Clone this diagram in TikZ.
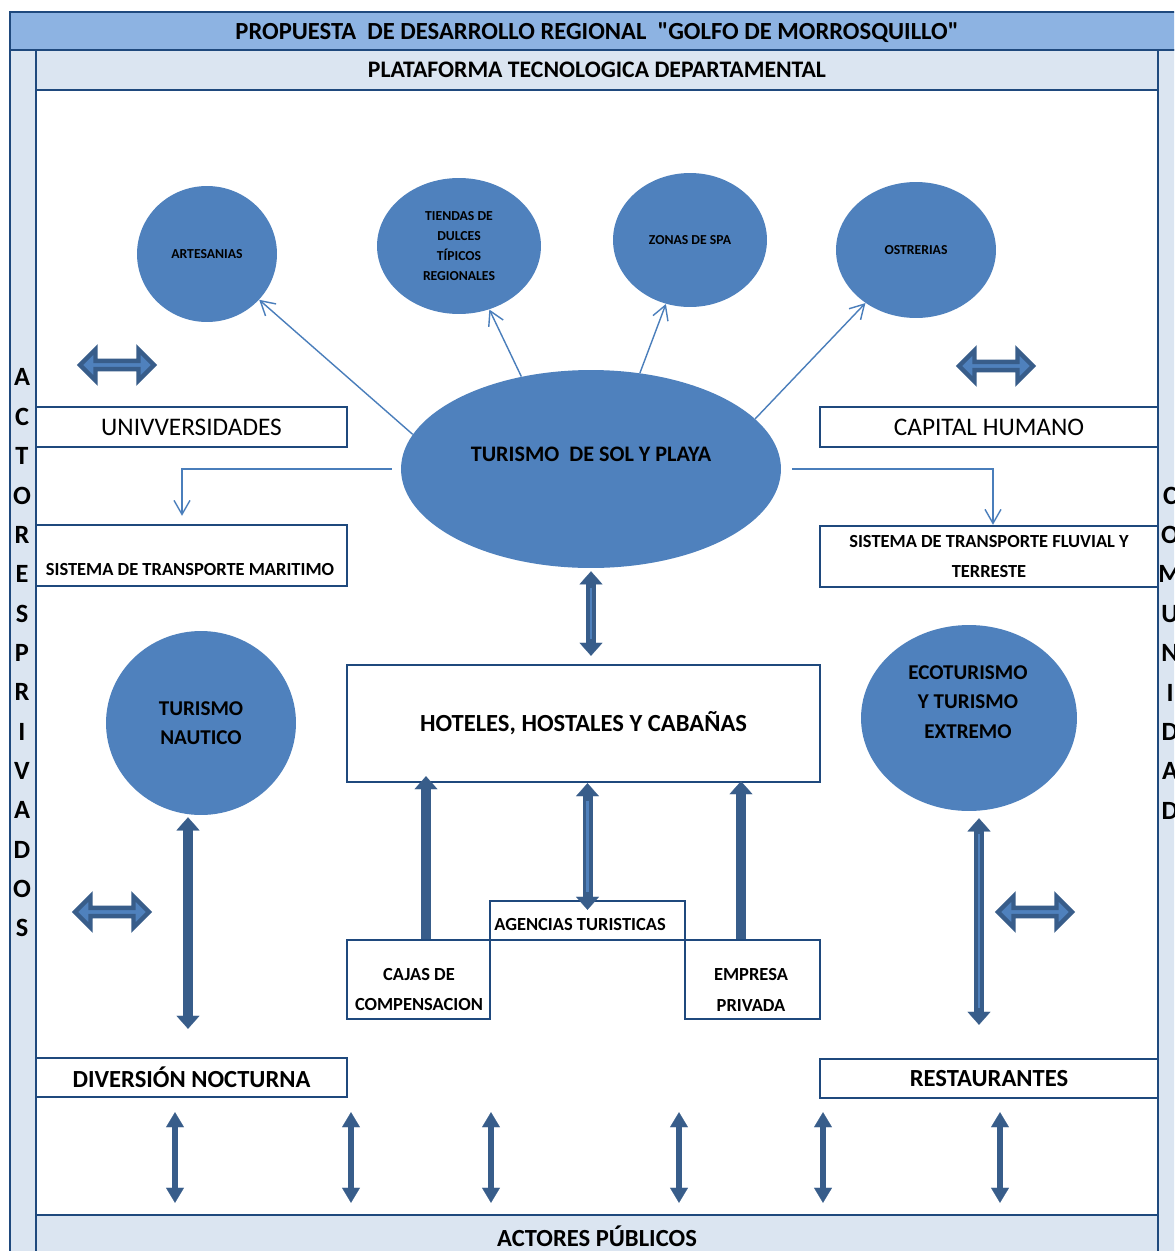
\documentclass[tikz,border=0pt]{standalone}
\usepackage{fontspec}
\setmainfont{Carlito}[Ligatures=TeXOff]
\usetikzlibrary{arrows.meta,shapes.geometric,shapes.arrows}
\definecolor{marco}{HTML}{1F497D}
\definecolor{banda}{HTML}{8DB3E2}
\definecolor{claro}{HTML}{DBE5F1}
\definecolor{globo}{HTML}{4F81BD}
\definecolor{flecha}{HTML}{385D8A}
\definecolor{linea}{HTML}{4A7EBB}

\tikzset{
  caja/.style={draw=marco, line width=1.4pt, fill=white, inner sep=2pt, align=center},
  barra/.style={draw=marco, line width=1.4pt, fill=claro, inner sep=0pt, minimum width=22.44cm},
  burbuja/.style={ellipse, fill=globo, inner sep=0pt, align=center, font=\bfseries\fontsize{7.8}{11.4}\selectfont},
  rotulo/.style={inner sep=0pt, align=center},
  letras/.style={inner sep=0pt, align=center, font=\bfseries\fontsize{15}{22.4}\selectfont},
  fina/.style={draw=linea, line width=0.8pt, -{Straight Barb[length=0.28cm,width=0.32cm]}},
  gruesa/.style={draw=flecha, line width=0.2cm,
    {Triangle[width=0.46cm,length=0.26cm,line width=0.1pt]}-{Triangle[width=0.46cm,length=0.26cm,line width=0.1pt]}},
  subida/.style={draw=flecha, line width=0.2cm, -{Triangle[width=0.46cm,length=0.26cm,line width=0.1pt]}},
  baja/.style={draw=flecha, line width=0.13cm,
    {Triangle[width=0.36cm,length=0.3cm,line width=0.1pt]}-{Triangle[width=0.36cm,length=0.3cm,line width=0.1pt]}},
  raya/.style 2 args={postaction={draw=globo, line width=1.2pt, -, shorten <=#1, shorten >=#2}},
  doble/.style={double arrow, draw=flecha, line width=2.5pt, fill=globo, inner sep=0pt,
    minimum height=1.48cm, minimum width=0.62cm, double arrow head extend=0.12cm},
}

\begin{document}
\begin{tikzpicture}[x=0.02cm, y=-0.02cm]
  \clip (0,0) rectangle (1174,1251);
  \fill[white] (0,0) rectangle (1174,1251);
  % marco general
  \filldraw[fill=banda, draw=marco, line width=1.4pt] (10,12) rectangle (1190,50);
  \filldraw[fill=claro, draw=marco, line width=1.4pt] (10,50) rectangle (36,1270);
  \filldraw[fill=claro, draw=marco, line width=1.4pt] (1158,50) rectangle (1190,1270);
  \node[rotulo, font=\bfseries\fontsize{14}{16}\selectfont] (tit) at (597,33)
    {PROPUESTA \ DE DESARROLLO REGIONAL \ "GOLFO DE MORROSQUILLO"};
  \node[barra, minimum height=0.8cm, font=\bfseries\fontsize{13.5}{16}\selectfont] (plat) at (597,70)
    {PLATAFORMA TECNOLOGICA DEPARTAMENTAL};
  \node[barra, minimum height=0.84cm, font=\bfseries\fontsize{14}{16}\selectfont] (pub) at (597,1236)
    {ACTORES PÚBLICOS};
  \node[letras] (priv) at (22,653) {A\\C\\T\\O\\R\\E\\S\\P\\R\\I\\V\\A\\D\\O\\S};
  \node[letras] (comu) at (1170,653) {C\\O\\M\\U\\N\\I\\D\\A\\D};

  % globos
  \node[burbuja, minimum width=2.8cm, minimum height=2.72cm] (art) at (207,254) {ARTESANIAS};
  \node[burbuja, minimum width=3.28cm, minimum height=2.72cm] (tie) at (459,246)
    {TIENDAS DE\\DULCES\\TÍPICOS\\REGIONALES};
  \node[burbuja, minimum width=3.08cm, minimum height=2.68cm] (spa) at (690,240) {ZONAS DE SPA};
  \node[burbuja, minimum width=3.2cm, minimum height=2.72cm] (ost) at (916,250) {OSTRERIAS};
  \node[burbuja, minimum width=7.6cm, minimum height=3.96cm] (sol) at (591,469) {};
  \node[rotulo, font=\bfseries\fontsize{12.6}{16}\selectfont] (sol-t) at (591,454)
    {TURISMO \ DE SOL Y PLAYA};
  \node[burbuja, minimum width=3.8cm, minimum height=3.68cm,
    font=\bfseries\fontsize{12}{16.5}\selectfont] (nau) at (201,723) {TURISMO\\NAUTICO};
  \node[burbuja, minimum width=4.32cm, minimum height=3.72cm] (eco) at (969,718) {};
  \node[rotulo, font=\bfseries\fontsize{12}{16.8}\selectfont] (eco-t) at (968,702)
    {ECOTURISMO\\Y TURISMO\\EXTREMO};

  % cajas
  \node[caja, minimum width=6.22cm, minimum height=0.8cm, font=\fontsize{14.4}{16}\selectfont] (univ)
    at (191.5,427) {UNIVVERSIDADES};
  \node[caja, minimum width=6.76cm, minimum height=0.8cm, font=\fontsize{14.4}{16}\selectfont] (cap)
    at (989,427) {CAPITAL HUMANO};
  \node[caja, minimum width=6.22cm, minimum height=1.22cm] (smar) at (191.5,555.5) {};
  \node[rotulo, font=\bfseries\fontsize{10.5}{12}\selectfont] (smar-t) at (190,570)
    {SISTEMA DE TRANSPORTE MARITIMO};
  \node[caja, minimum width=6.76cm, minimum height=1.22cm, font=\bfseries\fontsize{10.5}{17.6}\selectfont]
    (sflu) at (989,556.5) {SISTEMA DE TRANSPORTE FLUVIAL Y\\TERRESTE};
  \node[caja, minimum width=9.46cm, minimum height=2.34cm, font=\bfseries\fontsize{14}{16}\selectfont]
    (hot) at (583.5,723.5) {HOTELES, HOSTALES Y CABAÑAS};
  \node[caja, minimum width=3.9cm, minimum height=0.78cm] (agen) at (587.5,920.5) {};
  \node[rotulo, font=\bfseries\fontsize{10.5}{12}\selectfont] (agen-t) at (580,925) {AGENCIAS TURISTICAS};
  \node[caja, minimum width=2.86cm, minimum height=1.58cm] (cajas) at (418.5,979.5) {};
  \node[rotulo, font=\bfseries\fontsize{10.5}{17.6}\selectfont] (cajas-t) at (419,989.5)
    {CAJAS DE\\COMPENSACION};
  \node[caja, minimum width=2.7cm, minimum height=1.58cm] (empr) at (752.5,979.5) {};
  \node[rotulo, font=\bfseries\fontsize{10.5}{17.6}\selectfont] (empr-t) at (751,989.5)
    {EMPRESA\\PRIVADA};
  \node[caja, minimum width=6.22cm, minimum height=0.78cm, font=\bfseries\fontsize{14}{16}\selectfont]
    (div) at (191.5,1077.5) {DIVERSIÓN NOCTURNA};
  \node[caja, minimum width=6.76cm, minimum height=0.78cm, font=\bfseries\fontsize{14}{16}\selectfont]
    (rest) at (989,1078.5) {RESTAURANTES};

  % flechas dobles
  \node[doble] (d1) at (117,365) {};
  \node[doble] (d2) at (996,366) {};
  \node[doble] (d3) at (112,912) {};
  \node[doble] (d4) at (1035,912) {};

  % conectores finos
  \draw[fina] (sol.169) -- (art);
  \draw[fina] (sol.127) -- (tie);
  \draw[fina] (sol.63) -- (spa);
  \draw[fina] (sol.17) -- (ost);
  \draw[fina, shorten <=0.18cm, shorten >=0.16cm] (sol.west) -| ([xshift=-0.19cm]smar.north);
  \draw[fina, shorten <=0.22cm] (sol.east) -| ([xshift=0.08cm]sflu.north);

  % flechas de bloque
  \coordinate (cajB) at ([xshift=0.15cm]cajas.north);
  \coordinate (empB) at ([xshift=-0.23cm]empr.north);
  \coordinate (nauB) at ([xshift=-0.26cm]nau.south);
  \coordinate (ecoB) at ([xshift=0.2cm]eco.south);
  \draw[gruesa, raya={0.4cm}{0.5cm}, shorten <=0.06cm, shorten >=0.16cm] (sol.south) -- (sol.south |- hot.north);
  \draw[subida, shorten >=-0.14cm] (cajB) -- (cajB |- hot.south);
  \draw[gruesa, raya={0.35cm}{0.15cm}, shorten >=-0.2cm] (hot.south -| agen.north) -- (agen.north);
  \draw[subida, shorten >=-0.04cm] (empB) -- (empB |- hot.south);
  \draw[gruesa, shorten <=0.04cm, shorten >=0.56cm] (nauB) -- (nauB |- div.north);
  \draw[gruesa, raya={0.45cm}{1cm}, shorten <=0.14cm, shorten >=0.66cm] (ecoB) -- (ecoB |- rest.north);
  \foreach \x in {175,351,491,679,823,1000}
    \draw[baja, shorten <=0.28cm, shorten >=0.22cm] (\x,0 |- div.south) -- (\x,0 |- pub.north);
\end{tikzpicture}
\end{document}
